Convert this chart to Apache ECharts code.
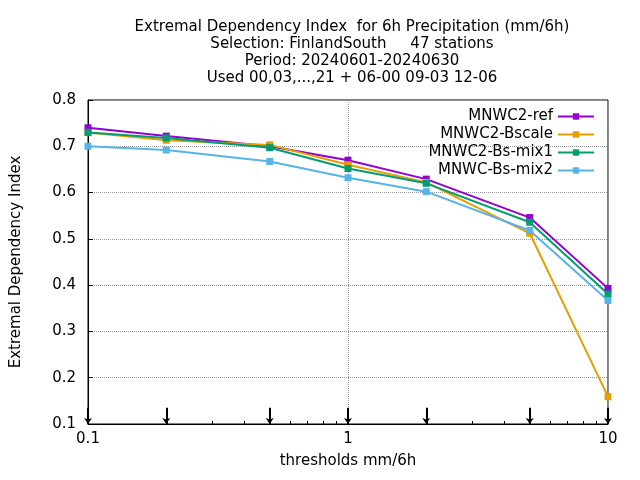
<!DOCTYPE html>
<html><head><meta charset="utf-8">
<script src="https://cdn.jsdelivr.net/npm/echarts@6/dist/echarts.min.js"></script>
<style>body{margin:0}#main{width:640px;height:480px}</style>
</head><body><div id="main"></div>
<script>
var thresholds = [0.1, 0.2, 0.5, 1, 2, 5, 10];
var names = ['MNWC2-ref', 'MNWC2-Bscale', 'MNWC2-Bs-mix1', 'MNWC-Bs-mix2'];
var colors = ['#9400d3', '#e69f00', '#009e73', '#56b4e9'];
var ref   = [0.740, 0.722, 0.700, 0.670, 0.629, 0.546, 0.393];
var bsc   = [0.730, 0.713, 0.703, 0.660, 0.622, 0.512, 0.159];
var mix1  = [0.730, 0.718, 0.697, 0.652, 0.620, 0.536, 0.381];
var mix2  = [0.700, 0.692, 0.667, 0.632, 0.602, 0.518, 0.367];
var values = [ref, bsc, mix1, mix2];

var font = 'DejaVu Sans';
var series = names.map(function (n, i) {
  return {
    name: n, type: 'line', color: colors[i],
    data: thresholds.map(function (t, j) { return [t, values[i][j]]; }),
    symbol: 'rect', symbolSize: 7,
    lineStyle: { width: 2 }
  };
});
// threshold arrows at the bottom
series.push({
  type: 'line', data: [], silent: true,
  markLine: {
    symbol: ['none', 'arrow'], symbolSize: 6, silent: true, label: { show: false },
    lineStyle: { color: '#000', width: 2, type: 'solid' },
    data: thresholds.map(function (t) { return [{ coord: [t, 0.135] }, { coord: [t, 0.1] }]; })
  }
});

var myChart = echarts.init(document.getElementById('main'));
myChart.setOption({
  animation: false,
  title: {
    text: 'Extremal Dependency Index  for 6h Precipitation (mm/6h)\nSelection: FinlandSouth     47 stations\nPeriod: 20240601-20240630\nUsed 00,03,...,21 + 06-00 09-03 12-06',
    left: 347, top: 14, textAlign: 'center',
    textStyle: { fontFamily: font, fontSize: 15, fontWeight: 'normal', lineHeight: 17, color: '#000' }
  },
  legend: {
    right: 40, top: 104, orient: 'vertical', align: 'right', itemGap: 3,
    itemWidth: 36, itemHeight: 8,
    textStyle: { fontFamily: font, fontSize: 15, color: '#000' },
    data: names
  },
  grid: { left: 88, right: 32, top: 100, bottom: 56, show: true, borderColor: '#000', borderWidth: 1 },
  xAxis: {
    type: 'log', min: 0.1, max: 10, logBase: 10,
    name: 'thresholds mm/6h', nameLocation: 'middle', nameGap: 30,
    nameTextStyle: { fontFamily: font, fontSize: 15, color: '#000' },
    axisLine: { lineStyle: { color: '#000' } },
    axisTick: { inside: true, lineStyle: { color: '#000' } },
    minorTick: { show: true, splitNumber: 9 },
    axisLabel: { fontFamily: font, fontSize: 15, color: '#000' },
    splitLine: { show: true, lineStyle: { color: '#999', type: 'dotted' } }
  },
  yAxis: {
    type: 'value', min: 0.1, max: 0.8, interval: 0.1,
    name: 'Extremal Dependency Index', nameLocation: 'middle', nameGap: 64,
    nameTextStyle: { fontFamily: font, fontSize: 15, color: '#000' },
    axisLine: { show: true, lineStyle: { color: '#000' } },
    axisTick: { inside: true, lineStyle: { color: '#000' } },
    axisLabel: { fontFamily: font, fontSize: 15, color: '#000', margin: 12, formatter: function (v) { return +v.toFixed(1); } },
    splitLine: { lineStyle: { color: '#999', type: 'dotted' } }
  },
  series: series
});
</script></body></html>
